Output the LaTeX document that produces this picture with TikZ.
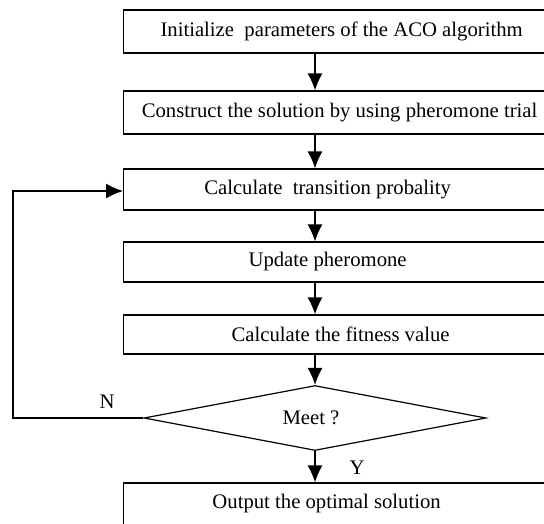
\documentclass[tikz,border=0pt]{standalone}
\usepackage{fontspec}
\setmainfont{Liberation Serif}
\usetikzlibrary{shapes.geometric, arrows.meta, positioning}

\tikzset{
  box/.style={draw, line width=1.2pt, minimum width=440pt, anchor=west, inner sep=0pt},
  test/.style={draw, diamond, line width=1.2pt, minimum width=342pt, minimum height=65pt, inner sep=0pt},
  arr/.style={line width=1.2pt, -{Latex[length=17pt, width=15pt]}},
}

\begin{document}
\begin{tikzpicture}[x=1pt, y=-1pt, font=\fontsize{20.7}{23}\selectfont]
		\useasboundingbox (0,0) rectangle (544,523);
		
		% column of the arrows
		\coordinate (mid) at (315,0);
		
		% steps
		\node[box, minimum height=43pt, label={[xshift=-2pt]center:Initialize~ parameters of the ACO algorithm}] (init) at (123,31.5) {};
		\node[box, minimum height=43pt, label={[xshift=-4pt]center:Construct the solution by using pheromone trial}] (cons) at (123,112.5) {};
		\node[box, minimum height=41pt, label={[xshift=-16pt]center:Calculate~ transition probality}] (calc) at (123,189.5) {};
		\node[box, minimum height=40pt, label={[xshift=-16pt]center:Update pheromone}] (upd) at (123,262) {};
		\node[box, minimum height=39pt, label={[xshift=-3pt]center:Calculate the fitness value}] (fit) at (123,334.5) {};
		
		% decision
		\node[test] (meet) at (315,418) {\hspace*{-8pt}Meet ?};
		
		% last step
		\node[box, minimum height=42pt, label={[xshift=-17pt]center:Output the optimal solution}] (out) at (123,504) {};
		
		% arrows down
		\draw[arr] (init.south -| mid) -- (cons.north -| mid);
		\draw[arr] (cons.south -| mid) -- (calc.north -| mid);
		\draw[arr] (calc.south -| mid) -- (upd.north -| mid);
		\draw[arr] (upd.south -| mid) -- (fit.north -| mid);
		\draw[arr] (fit.south -| mid) -- (meet.north);
		\draw[arr] (meet.south) -- (out.north -| meet.south);
		
		% loop back
		\coordinate (back) at (13,418);
		\draw[arr] (meet.west) -- (back) |- ([yshift=-1.5pt]calc.west);
		
		% N, Y
		\node (lblN) at (107,402) {N};
		\node (lblY) at (357,468) {Y};
\end{tikzpicture}
\end{document}
